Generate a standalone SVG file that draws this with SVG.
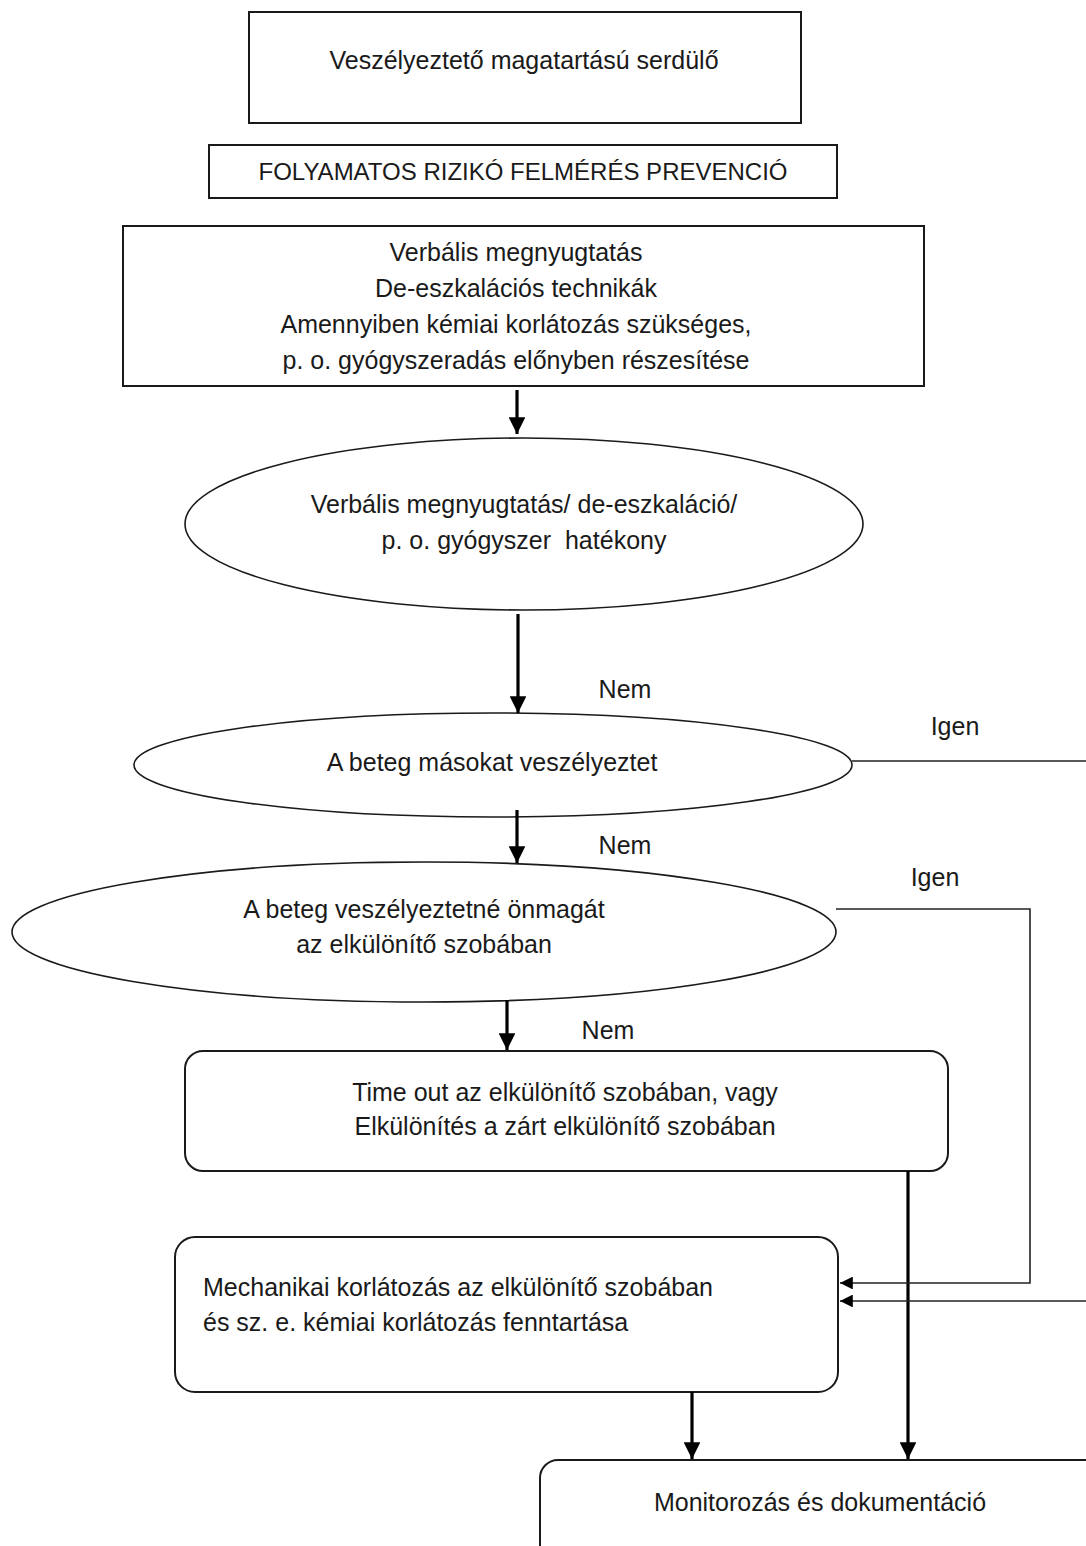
<svg xmlns="http://www.w3.org/2000/svg" width="1086" height="1546" viewBox="0 0 1086 1546">
<defs>
<marker id="ah" viewBox="0 0 10 10" refX="10" refY="5" markerWidth="5.5" markerHeight="5.2" markerUnits="strokeWidth" orient="auto">
<path d="M0,0 L10,5 L0,10 z" fill="#000"/>
</marker>
<marker id="ahs" viewBox="0 0 10 10" refX="10" refY="5" markerWidth="10" markerHeight="8" markerUnits="strokeWidth" orient="auto">
<path d="M0,0 L10,5 L0,10 z" fill="#000"/>
</marker>
</defs>
<style>
.box{fill:#fff;stroke:#1a1a1a;stroke-width:2}
.ell{fill:#fff;stroke:#1a1a1a;stroke-width:1.6}
.t{font-family:"Liberation Sans",Arial,sans-serif;font-size:25px;fill:#1a1a1a;text-anchor:middle}
.tl{font-family:"Liberation Sans",Arial,sans-serif;font-size:25px;fill:#1a1a1a}
.tu{font-family:"Liberation Sans",Arial,sans-serif;font-size:24px;fill:#1a1a1a;text-anchor:middle}
.pre{white-space:pre}
.thick{stroke:#000;stroke-width:3.2;fill:none}
.thin{stroke:#222;stroke-width:1.6;fill:none}
</style>
<rect width="1086" height="1546" fill="#fff"/>
<g id="n1"><rect class="box" x="249" y="12" width="552" height="111"/><text class="t" x="524" y="69">Veszélyeztető magatartású serdülő</text></g>
<g id="n2"><rect class="box" x="209" y="145" width="628" height="53"/><text class="tu" x="523" y="180">FOLYAMATOS RIZIKÓ FELMÉRÉS PREVENCIÓ</text></g>
<g id="n3"><rect class="box" x="123" y="226" width="801" height="160"/>
<text class="t" x="516" y="261">Verbális megnyugtatás</text>
<text class="t" x="516" y="297">De-eszkalációs technikák</text>
<text class="t" x="516" y="333">Amennyiben kémiai korlátozás szükséges,</text>
<text class="t" x="516" y="369">p. o. gyógyszeradás előnyben részesítése</text></g>
<g id="n4"><ellipse class="ell" cx="524" cy="524" rx="339" ry="86"/>
<text class="t" x="524" y="513">Verbális megnyugtatás/ de-eszkaláció/</text>
<text class="t pre" x="524" y="549" xml:space="preserve">p. o. gyógyszer  hatékony</text></g>
<g id="n5"><ellipse class="ell" cx="493" cy="765" rx="359" ry="52"/>
<text class="t" x="492" y="771">A beteg másokat veszélyeztet</text></g>
<g id="n6"><ellipse class="ell" cx="424" cy="932" rx="412" ry="70"/>
<text class="t" x="424" y="918">A beteg veszélyeztetné önmagát</text>
<text class="t" x="424" y="953">az elkülönítő szobában</text></g>
<g id="n7"><rect class="box" x="185" y="1051" width="763" height="120" rx="18"/>
<text class="t" x="565" y="1101">Time out az elkülönítő szobában, vagy</text>
<text class="t" x="565" y="1135">Elkülönítés a zárt elkülönítő szobában</text></g>
<g id="n8"><rect class="box" x="175" y="1237" width="663" height="155" rx="20"/>
<text class="tl" x="203" y="1296">Mechanikai korlátozás az elkülönítő szobában</text>
<text class="tl" x="203" y="1331">és sz. e. kémiai korlátozás fenntartása</text></g>
<g id="n9"><rect class="box" x="540" y="1460" width="580" height="110" rx="18"/>
<text class="t" x="820" y="1511">Monitorozás és dokumentáció</text></g>
<g id="connectors">
<line class="thick" x1="517" y1="390" x2="517" y2="434" marker-end="url(#ah)"/>
<line class="thick" x1="518" y1="614" x2="518" y2="713" marker-end="url(#ah)"/>
<line class="thick" x1="517" y1="810" x2="517" y2="863" marker-end="url(#ah)"/>
<line class="thick" x1="507" y1="1000" x2="507" y2="1050" marker-end="url(#ah)"/>
<line class="thick" x1="908" y1="1171" x2="908" y2="1459" marker-end="url(#ah)"/>
<line class="thick" x1="692" y1="1392" x2="692" y2="1459" marker-end="url(#ah)"/>
<line class="thin" x1="852" y1="761" x2="1086" y2="761"/>
<polyline class="thin" points="836,909 1030,909 1030,1283 840,1283" marker-end="url(#ahs)"/>
<line class="thin" x1="1086" y1="1301" x2="840" y2="1301" marker-end="url(#ahs)"/>
</g>
<g id="labels">
<text class="t" x="625" y="698">Nem</text>
<text class="t" x="625" y="854">Nem</text>
<text class="t" x="608" y="1039">Nem</text>
<text class="t" x="955" y="735">Igen</text>
<text class="t" x="935" y="886">Igen</text>
</g>
</svg>
